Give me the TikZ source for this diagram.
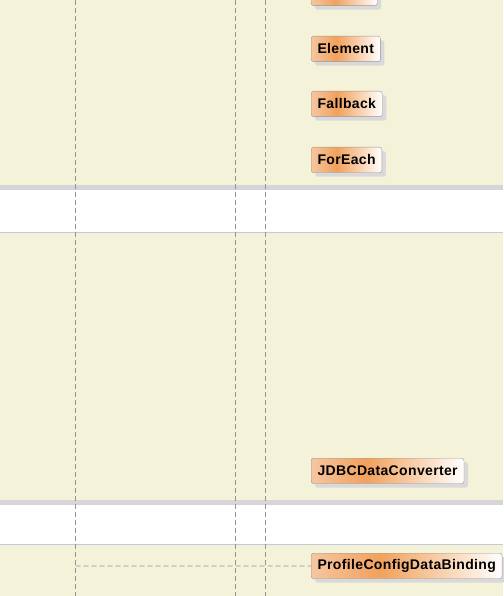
\documentclass[tikz,border=0pt]{standalone}
\usepackage{fontspec}
\setmainfont{Liberation Sans}
\newfontfamily\boxfont[LetterSpace=2.5]{Liberation Sans}
\usetikzlibrary{positioning, shadows}
\definecolor{lanebg}{HTML}{F4F3DA}
\definecolor{stripgray}{HTML}{D6D6D9}
\definecolor{laneline}{HTML}{C3CADB}
\definecolor{orpale}{HTML}{F6C6A0}
\definecolor{orpeak}{HTML}{F1A15C}
\pgfdeclarehorizontalshading{umlorange}{100bp}{color(0bp)=(orpale); color(25bp)=(orpale); color(43bp)=(orpeak); color(75bp)=(white); color(100bp)=(white)}
\tikzset{
  classbox/.style={draw=black!40, rounded corners=2.5pt, shade, shading=umlorange,
    font=\boxfont\bfseries\fontsize{14}{16}\selectfont, inner xsep=6.3pt, inner ysep=0pt,
    minimum height=25.5pt, anchor=north west,
    drop shadow={shadow xshift=4pt, shadow yshift=-4pt, fill=black!15, opacity=1}},
  lifeline/.style={draw=black!42, dash pattern=on 5pt off 3pt, line width=0.8pt}
}

\begin{document}
\begin{tikzpicture}[x=1pt, y=-1pt]
  \useasboundingbox (0,0) rectangle (503,596);
  % lanes
  \fill[lanebg] (0,0) rectangle (503,185);
  \fill[stripgray] (0,185) rectangle (503,190);
  \fill[white] (0,190) rectangle (503,232);
  \draw[laneline] (0,232.5) -- (503,232.5);
  \fill[lanebg] (0,233) rectangle (503,500);
  \fill[stripgray] (0,500) rectangle (503,505);
  \fill[white] (0,505) rectangle (503,544);
  \draw[laneline] (0,544.5) -- (503,544.5);
  \fill[lanebg] (0,545) rectangle (503,596);
  % lifelines
  \draw[lifeline] (75.5,0) -- (75.5,596);
  \draw[lifeline] (235.5,0) -- (235.5,596);
  \draw[lifeline] (265.5,0) -- (265.5,596);
  % classes
  \node[classbox, minimum width=66pt] (top) at (311,-20) {};
  \node[classbox] (element) at (311,36) {Element};
  \node[classbox] (fallback) at (311,91) {Fallback};
  \node[classbox] (foreach) at (311,147) {ForEach};
  \node[classbox] (jdbc) at (311,458) {JDBCDataConverter};
  \node[classbox] (pcdb) at (311,553) {ProfileConfigDataBinding};
  \coordinate (lifeA) at (75.5,566);
  \draw[lifeline] (lifeA) -- (pcdb.west);
\end{tikzpicture}
\end{document}
